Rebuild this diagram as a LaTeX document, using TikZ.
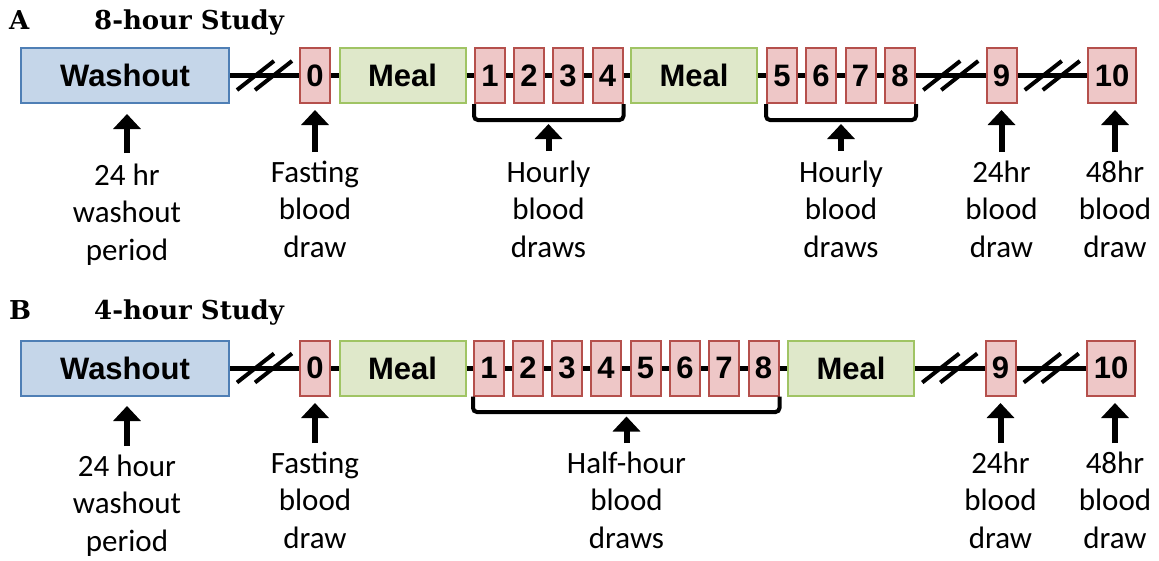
\documentclass[tikz,border=0pt]{standalone}
\usepackage{fontspec}
\usetikzlibrary{arrows.meta,calc}
\newfontfamily\labfont{Carlito}
\newfontfamily\boxfont{Liberation Sans}
\newfontfamily\titlefont{DejaVu Serif}
\definecolor{washfill}{HTML}{C5D6E9}
\definecolor{washdraw}{HTML}{4F7FB5}
\definecolor{pinkfill}{HTML}{EEC7C7}
\definecolor{pinkdraw}{HTML}{B5504C}
\definecolor{mealfill}{HTML}{DFE8CA}
\definecolor{mealdraw}{HTML}{A0C464}
\tikzset{
  box/.style={draw, line width=2pt, inner sep=0pt, minimum height=55pt,
    font=\boxfont\bfseries\fontsize{31}{37}\selectfont},
  washbox/.style={box, fill=washfill, draw=washdraw, minimum width=208pt},
  pinkbox/.style={box, fill=pinkfill, draw=pinkdraw, minimum width=30pt},
  widepink/.style={box, fill=pinkfill, draw=pinkdraw, minimum width=48pt},
  mealbox/.style={box, fill=mealfill, draw=mealdraw, minimum width=126pt},
  conn/.style={line width=5pt},
  slash/.style={line width=4pt},
  brk/.style={line width=4pt, rounded corners=4pt},
  uparrow/.style={line width=6pt, -{Triangle[width=27pt,length=15pt]}},
  lab/.style={font=\labfont\fontsize{31}{37.5}\selectfont, align=center, inner sep=0pt, anchor=north},
  ttl/.style={font=\titlefont\bfseries\fontsize{26}{30}\selectfont, inner sep=0pt, anchor=base west},
}
\newcommand{\breakmark}[1]{%
  \draw[slash] ([shift={(-27.5,14.5)}]#1) -- ++(37,-29);
  \draw[slash] ([shift={(-9.5,14.5)}]#1) -- ++(37,-29);}
\begin{document}
\begin{tikzpicture}[x=1pt,y=-1pt]
\useasboundingbox (0,0) rectangle (1159,560);
% ---------------- Row A ----------------
\node[ttl] (tA) at (9,29.5) {A};
\node[ttl] (tAs) at (94,29.5) {8-hour Study};
\node[washbox] (washA) at (125,75.5) {Washout};
\node[pinkbox] (zeroA) at (315,75.5) {0};
\node[mealbox] (mealA1) at (402.5,75.5) {Meal};
\node[pinkbox] (oneA) at (490,75.5) {1};
\node[pinkbox] (twoA) at (529,75.5) {2};
\node[pinkbox] (threeA) at (568,75.5) {3};
\node[pinkbox] (fourA) at (607.5,75.5) {4};
\node[mealbox] (mealA2) at (694,75.5) {Meal};
\node[pinkbox] (fiveA) at (782,75.5) {5};
\node[pinkbox] (sixA) at (821,75.5) {6};
\node[pinkbox] (sevenA) at (860.5,75.5) {7};
\node[pinkbox] (eightA) at (900,75.5) {8};
\node[pinkbox] (nineA) at (1001.5,75.5) {9};
\node[widepink] (tenA) at (1112,75.5) {10};
\foreach \a/\b in {washA/zeroA, zeroA/mealA1, mealA1/oneA, oneA/twoA, twoA/threeA,
  threeA/fourA, fourA/mealA2, mealA2/fiveA, fiveA/sixA, sixA/sevenA, sevenA/eightA,
  eightA/nineA, nineA/tenA}
  \draw[conn] (\a) -- (\b);
\coordinate (bkA1) at ($(washA.east)!0.5!(zeroA.west)$);
\coordinate (bkA2) at ($(eightA.east)!0.5!(nineA.west)$);
\coordinate (bkA3) at ($(nineA.east)!0.5!(tenA.west)$);
\breakmark{bkA1}\breakmark{bkA2}\breakmark{bkA3}
\draw[brk] (oneA.south west) -- ++(0,16) -| (fourA.south east);
\draw[brk] (fiveA.south west) -- ++(0,16) -| (eightA.south east);
\coordinate (brA1) at ($(oneA.south west)!0.5!(fourA.south east)+(0,16)$);
\coordinate (brA2) at ($(fiveA.south west)!0.5!(eightA.south east)+(0,16)$);
\node[lab] (lwA) at (127,158.75) {\strut 24 hr\\washout\\period};
\node[lab] (lfA) at (315,155.75) {\strut Fasting\\blood\\draw};
\node[lab] (lh1A) at (548.5,155.75) {\strut Hourly\\blood\\draws};
\node[lab] (lh2A) at (841,155.75) {\strut Hourly\\blood\\draws};
\node[lab] (l24A) at (1001.5,155.75) {\strut 24hr\\blood\\draw};
\node[lab] (l48A) at (1115,155.75) {\strut 48hr\\blood\\draw};
\draw[uparrow, shorten <=5.75pt, shorten >=10pt] (lwA.north) -- (lwA.north |- washA.south);
\draw[uparrow, shorten <=3.75pt, shorten >=6pt] (lfA.north) -- (lfA.north |- zeroA.south);
\draw[uparrow, shorten <=4.75pt, shorten >=4pt] (lh1A.north) -- (lh1A.north |- brA1);
\draw[uparrow, shorten <=4.75pt, shorten >=4pt] (lh2A.north) -- (lh2A.north |- brA2);
\draw[uparrow, shorten <=3.75pt, shorten >=6pt] (l24A.north) -- (l24A.north |- nineA.south);
\draw[uparrow, shorten <=3.75pt, shorten >=6pt] (l48A.north) -- (l48A.north |- tenA.south);
% ---------------- Row B ----------------
\node[ttl] (tB) at (9,319) {B};
\node[ttl] (tBs) at (94,319) {4-hour Study};
\node[washbox] (washB) at (125,368) {Washout};
\node[pinkbox] (zeroB) at (315,368) {0};
\node[mealbox] (mealB1) at (402.5,368) {Meal};
\node[pinkbox] (oneB) at (489,368) {1};
\node[pinkbox] (twoB) at (528,368) {2};
\node[pinkbox] (threeB) at (567,368) {3};
\node[pinkbox] (fourB) at (606,368) {4};
\node[pinkbox] (fiveB) at (645.5,368) {5};
\node[pinkbox] (sixB) at (685,368) {6};
\node[pinkbox] (sevenB) at (724,368) {7};
\node[pinkbox] (eightB) at (763.5,368) {8};
\node[mealbox] (mealB2) at (851,368) {Meal};
\node[pinkbox] (nineB) at (1000.5,368) {9};
\node[widepink] (tenB) at (1111,368) {10};
\foreach \a/\b in {washB/zeroB, zeroB/mealB1, mealB1/oneB, oneB/twoB, twoB/threeB,
  threeB/fourB, fourB/fiveB, fiveB/sixB, sixB/sevenB, sevenB/eightB, eightB/mealB2,
  mealB2/nineB, nineB/tenB}
  \draw[conn] (\a) -- (\b);
\coordinate (bkB1) at ($(washB.east)!0.5!(zeroB.west)$);
\coordinate (bkB2) at ($(mealB2.east)!0.5!(nineB.west)$);
\coordinate (bkB3) at ($(nineB.east)!0.5!(tenB.west)$);
\breakmark{bkB1}\breakmark{bkB2}\breakmark{bkB3}
\draw[brk] (oneB.south west) -- ++(0,15.5) -| (eightB.south east);
\coordinate (brB1) at ($(oneB.south west)!0.5!(eightB.south east)+(0,15.5)$);
\node[lab] (lwB) at (127,449.75) {\strut 24 hour\\washout\\period};
\node[lab] (lfB) at (315,446.75) {\strut Fasting\\blood\\draw};
\node[lab] (lhB) at (626.5,446.75) {\strut Half-hour\\blood\\draws};
\node[lab] (l24B) at (1000.5,446.75) {\strut 24hr\\blood\\draw};
\node[lab] (l48B) at (1115,446.75) {\strut 48hr\\blood\\draw};
\draw[uparrow, shorten <=3.75pt, shorten >=9.5pt] (lwB.north) -- (lwB.north |- washB.south);
\draw[uparrow, shorten <=3.75pt, shorten >=6.5pt] (lfB.north) -- (lfB.north |- zeroB.south);
\draw[uparrow, shorten <=3.75pt, shorten >=4.5pt] (lhB.north) -- (lhB.north |- brB1);
\draw[uparrow, shorten <=3.75pt, shorten >=6.5pt] (l24B.north) -- (l24B.north |- nineB.south);
\draw[uparrow, shorten <=3.75pt, shorten >=6.5pt] (l48B.north) -- (l48B.north |- tenB.south);
\end{tikzpicture}
\end{document}
